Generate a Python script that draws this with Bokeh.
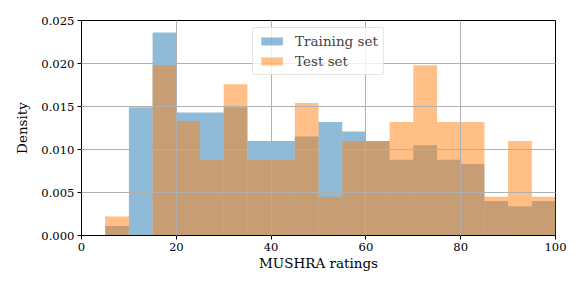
from bokeh.plotting import figure
from bokeh.models import Range1d, FixedTicker, NumeralTickFormatter, Legend, LegendItem, ColumnDataSource
from bokeh.embed import file_html
from bokeh.resources import INLINE

bin_left = [5, 10, 15, 20, 25, 30, 35, 40, 45, 50, 55, 60, 65, 70, 75, 80, 85, 90, 95]
train_density = [0.0011, 0.0149, 0.0236, 0.0143, 0.0143, 0.0149, 0.0110, 0.0110, 0.0115, 0.0132,
                 0.0121, 0.0110, 0.0088, 0.0105, 0.0088, 0.0083, 0.0040, 0.0034, 0.0040]
test_density = [0.0022, 0.0, 0.0198, 0.0133, 0.0088, 0.0176, 0.0088, 0.0088, 0.0154, 0.0045,
                0.0110, 0.0110, 0.0132, 0.0198, 0.0132, 0.0132, 0.0045, 0.0110, 0.0045]
bin_width = 5
series_names = ["Training set", "Test set"]
x_ticks = [0, 20, 40, 60, 80, 100]
y_ticks = [0.0, 0.005, 0.010, 0.015, 0.020, 0.025]

FONT = "DejaVu Serif"

p = figure(width=574, height=283, output_backend="svg", toolbar_location=None,
           x_range=Range1d(0, 100), y_range=Range1d(0, 0.025),
           min_border_left=81, min_border_right=19, min_border_top=20, min_border_bottom=48)

right = [b + bin_width for b in bin_left]
src_tr = ColumnDataSource(dict(left=bin_left, right=right, top=train_density))
src_te = ColumnDataSource(dict(left=bin_left, right=right, top=test_density))

r1 = p.quad(left="left", right="right", top="top", bottom=0, source=src_tr,
            fill_color="#1f77b4", fill_alpha=0.5, line_color=None)
r2 = p.quad(left="left", right="right", top="top", bottom=0, source=src_te,
            fill_color="#ff7f0e", fill_alpha=0.5, line_color=None)

for g in (p.xgrid, p.ygrid):
    g.grid_line_color = "#b0b0b0"
    g.grid_line_width = 1
    g.level = "guide"
p.xgrid.ticker = FixedTicker(ticks=x_ticks)
p.ygrid.ticker = FixedTicker(ticks=y_ticks)

p.xaxis.ticker = FixedTicker(ticks=x_ticks)
p.yaxis.ticker = FixedTicker(ticks=y_ticks)
p.yaxis.formatter = NumeralTickFormatter(format="0.000")
p.xaxis.axis_label = "MUSHRA ratings"
p.yaxis.axis_label = "Density"
for ax in (p.xaxis, p.yaxis):
    ax.major_label_text_font = FONT
    ax.major_label_text_font_size = "11.6px"
    ax.major_label_text_color = "#000000"
    ax.axis_label_text_font = FONT
    ax.axis_label_text_font_size = "13.5px"
    ax.axis_label_text_font_style = "normal"
    ax.axis_label_text_color = "#000000"
    ax.axis_line_color = "#000000"
    ax.major_tick_line_color = "#000000"
    ax.major_tick_out = 4
    ax.major_tick_in = 0
    ax.minor_tick_line_color = None
p.xaxis.axis_label_standoff = 1
p.yaxis.axis_label_standoff = 8
p.xaxis.major_label_standoff = 3
p.yaxis.major_label_standoff = 3

p.outline_line_color = "#000000"
p.outline_line_width = 1

legend = Legend(items=[LegendItem(label=series_names[0], renderers=[r1]),
                       LegendItem(label=series_names[1], renderers=[r2])],
                location="top_center")
legend.label_text_font = FONT
legend.label_text_font_size = "13.5px"
legend.border_line_color = "#cccccc"
legend.background_fill_alpha = 0.8
legend.border_radius = 3
legend.glyph_width = 27
legend.glyph_height = 10
legend.spacing = 4
legend.padding = 5
legend.margin = 7
legend.label_standoff = 10
p.add_layout(legend)

open("out.html", "w").write(file_html(p, INLINE))
